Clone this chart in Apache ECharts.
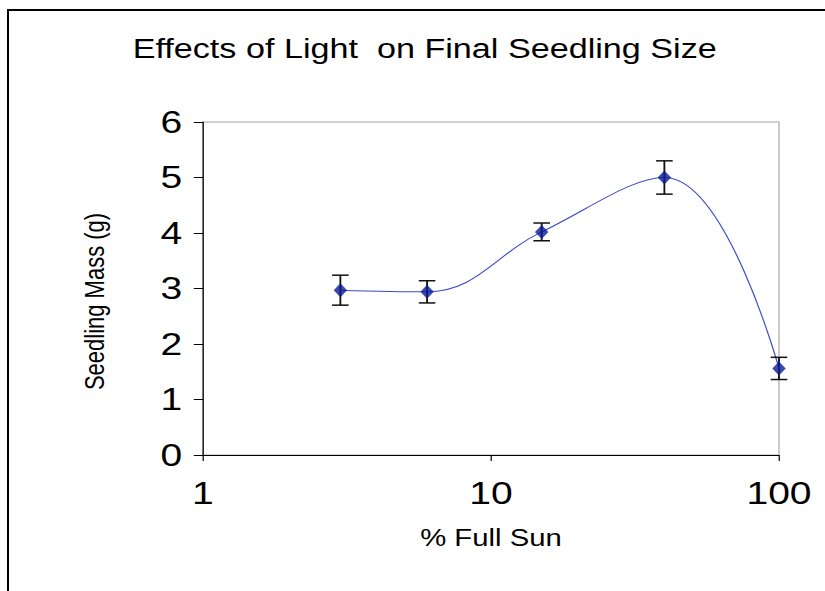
<!DOCTYPE html>
<html>
<head>
<meta charset="utf-8">
<script src="https://cdn.jsdelivr.net/npm/echarts@6/dist/echarts.min.js"></script>
<style>
  html, body { margin: 0; padding: 0; background: #fff; overflow: hidden; }
  #frame { position: absolute; left: 7px; top: 9px; width: 830px; height: 600px;
           border-left: 2px solid #000; border-top: 2px solid #000; box-sizing: border-box; }
  /* the chart is laid out narrow and widened, giving the broad lettering of the figure */
  #chart { position: absolute; left: 0; top: 0; width: 676px; height: 591px;
           transform: scaleX(1.22041); transform-origin: 0 0; }
</style>
</head>
<body>
<div id="frame"></div>
<div id="chart"></div>
<script>
// Seedling mass at each light level (% of full sun), with error half-widths
const lightLevels = [3, 6, 15, 40, 100];
const seedlingMass = [2.97, 2.94, 4.02, 5.0, 1.56];
const massError = [0.27, 0.2, 0.16, 0.3, 0.2];
const xTicks = [1, 10, 100];
const yTicks = [0, 1, 2, 3, 4, 5, 6];

const FONT = '"Liberation Sans", Arial, sans-serif';

const points = lightLevels.map((x, i) => [x, seedlingMass[i]]);
const bars = lightLevels.map((x, i) => [x, seedlingMass[i] - massError[i], seedlingMass[i] + massError[i]]);

const chart = echarts.init(document.getElementById('chart'), null, { renderer: 'svg' });
chart.setOption({
  animation: false,
  backgroundColor: 'transparent',
  title: {
    text: 'Effects of Light  on Final Seedling Size',
    left: 343, top: 30, textAlign: 'center',
    textStyle: { fontFamily: FONT, fontSize: 28, fontWeight: 'normal', color: '#000' }
  },
  grid: { left: 166.3, right: 37.7, top: 122, bottom: 136, show: true, borderColor: '#a8a8a8', borderWidth: 1 },
  xAxis: {
    type: 'log', logBase: 10, min: xTicks[0], max: xTicks[xTicks.length - 1],
    name: '% Full Sun', nameLocation: 'middle', nameGap: 71,
    nameTextStyle: { fontFamily: FONT, fontSize: 24, color: '#000' },
    axisLine: { lineStyle: { color: '#000', width: 1 } },
    axisTick: { show: true, length: 6, lineStyle: { color: '#000' } },
    minorTick: { show: false },
    splitLine: { show: false },
    axisLabel: { fontFamily: FONT, fontSize: 32, color: '#000', margin: 22 }
  },
  yAxis: {
    type: 'value', min: yTicks[0], max: yTicks[yTicks.length - 1], interval: 1,
    name: 'Seedling Mass (g)', nameLocation: 'middle', nameGap: 78,
    nameTextStyle: { fontFamily: FONT, fontSize: 22, color: '#000', padding: [0, 26, 0, 0] },
    axisLine: { show: true, lineStyle: { color: '#000', width: 1 } },
    axisTick: { show: true, length: 7.5, lineStyle: { color: '#000' } },
    splitLine: { show: false },
    axisLabel: { fontFamily: FONT, fontSize: 32, color: '#000', margin: 17 }
  },
  series: [
    {
      type: 'line', data: points, smooth: 0.4,
      lineStyle: { color: '#3a4cc8', width: 1 },
      symbol: 'none', z: 2
    },
    {
      type: 'custom', data: bars, z: 3,
      renderItem: function (params, api) {
        const x = api.value(0);
        const lo = api.coord([x, api.value(1)]);
        const hi = api.coord([x, api.value(2)]);
        const half = 6.8;
        const style = { stroke: '#111', lineWidth: 1.5 };
        return {
          type: 'group',
          children: [
            { type: 'line', shape: { x1: lo[0], y1: lo[1], x2: hi[0], y2: hi[1] }, style: style },
            { type: 'line', shape: { x1: lo[0] - half, y1: lo[1], x2: lo[0] + half, y2: lo[1] }, style: style },
            { type: 'line', shape: { x1: hi[0] - half, y1: hi[1], x2: hi[0] + half, y2: hi[1] }, style: style }
          ]
        };
      }
    },
    {
      type: 'scatter', data: points, z: 4,
      symbol: 'diamond', symbolSize: [11, 14],
      itemStyle: { color: '#0a1a96' }
    }
  ]
});
</script>
</body>
</html>
